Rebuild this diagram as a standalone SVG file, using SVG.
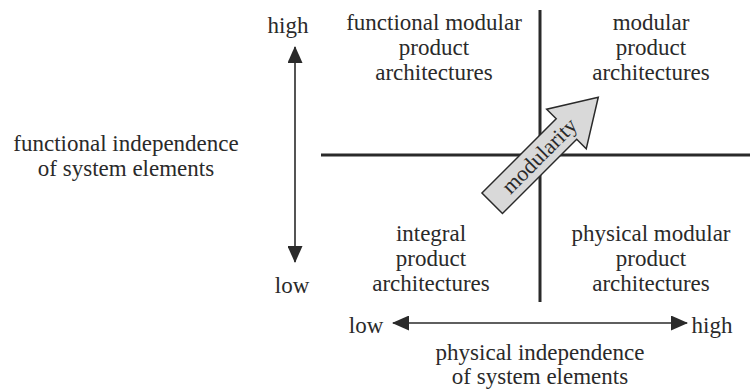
<svg xmlns="http://www.w3.org/2000/svg" width="750" height="392" viewBox="0 0 750 392">
<defs>
<marker id="ah" markerUnits="userSpaceOnUse" viewBox="0 0 17 15" refX="16" refY="7.5" markerWidth="17" markerHeight="15" orient="auto-start-reverse">
<path d="M0,0 L17,7.5 L0,15 z" fill="#2a2a2a"/>
</marker>
</defs>
<rect width="750" height="392" fill="#ffffff"/>
<g id="connectors" fill="none" stroke="#2a2a2a">
<line stroke-width="3" x1="321" y1="155" x2="750" y2="155"/>
<line stroke-width="3" x1="540" y1="10" x2="540" y2="302"/>
<line stroke-width="1.6" x1="295" y1="47" x2="295" y2="262" marker-start="url(#ah)" marker-end="url(#ah)"/>
<line stroke-width="1.6" x1="393" y1="323" x2="687" y2="323" marker-start="url(#ah)" marker-end="url(#ah)"/>
</g>
<g font-family="Liberation Serif" font-size="23" fill="#2a2a2a" text-anchor="middle">
<g id="modularity-arrow" transform="translate(492.2,203.3) rotate(-45)">
<path d="M0,-14.5 L105,-14.5 L105,-28 L150,0 L105,28 L105,14.5 L0,14.5 z" fill="#d9d9d9" stroke="#2a2a2a" stroke-width="1.5"/>
<text x="67" y="7" font-size="22">modularity</text>
</g>
<g id="q-functional-modular">
<text x="434" y="30">functional modular</text>
<text x="434" y="55">product</text>
<text x="434" y="80">architectures</text>
</g>
<g id="q-modular">
<text x="651" y="30">modular</text>
<text x="651" y="55">product</text>
<text x="651" y="80">architectures</text>
</g>
<g id="q-integral">
<text x="431" y="241">integral</text>
<text x="431" y="266">product</text>
<text x="431" y="291">architectures</text>
</g>
<g id="q-physical-modular">
<text x="651" y="241">physical modular</text>
<text x="651" y="266">product</text>
<text x="651" y="291">architectures</text>
</g>
<g id="y-axis-labels">
<text x="288" y="33">high</text>
<text x="292" y="293">low</text>
<text x="126" y="151">functional independence</text>
<text x="126" y="176">of system elements</text>
</g>
<g id="x-axis-labels">
<text x="366" y="333">low</text>
<text x="712" y="333">high</text>
<text x="540" y="360">physical independence</text>
<text x="540" y="384">of system elements</text>
</g>
</g>
</svg>
